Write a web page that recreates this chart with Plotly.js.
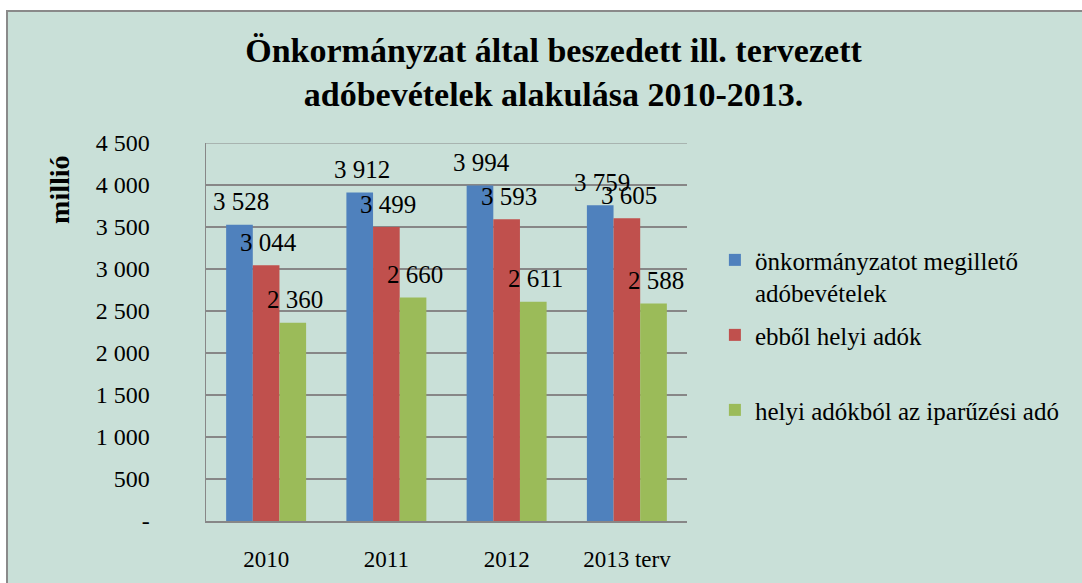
<!DOCTYPE html>
<html>
<head>
<meta charset="utf-8">
<script src="https://cdn.plot.ly/plotly-3.0.1.min.js"></script>
<style>
  html, body { margin:0; padding:0; background:#ffffff; overflow:hidden; width:1082px; height:583px; }
  #chart { position:absolute; left:6px; top:10px; width:1076px; height:571px;
           border-top:2px solid #8a8a8a; border-left:2px solid #8a8a8a; }
</style>
</head>
<body>
<div id="chart"></div>
<script>
const categories = ["2010", "2011", "2012", "2013 terv"];
const seriesNames = ["önkormányzatot megillető<br>adóbevételek", "ebből helyi adók<br>\u00a0", "helyi adókból az iparűzési adó"];
const totalRevenue = [3528, 3912, 3994, 3759];
const localTaxes = [3044, 3499, 3593, 3605];
const businessTax = [2360, 2660, 2611, 2588];
const yTickValues = [0, 500, 1000, 1500, 2000, 2500, 3000, 3500, 4000, 4500];
const yTickLabels = ["-", "500", "1 000", "1 500", "2 000", "2 500", "3 000", "3 500", "4 000", "4 500"];

const colors = ["#4f81bd", "#c0504d", "#9bbb59"];
const series = [totalRevenue, localTaxes, businessTax];
const bg = "#c9e0d8";
const serif = "Liberation Serif, serif";

function fmt(v) { return String(v).replace(/\B(?=(\d{3})+(?!\d))/g, " "); }

const traces = series.map((vals, i) => ({
  type: "bar",
  x: categories,
  y: vals,
  name: seriesNames[i],
  marker: { color: colors[i] },
  legendgroup: "g" + i,
  hoverinfo: "skip"
}));

const barPx = 26.7;
const annotations = [];
series.forEach((vals, i) => {
  vals.forEach((v, j) => {
    annotations.push({
      x: j, y: v, xref: "x", yref: "y",
      text: fmt(v), showarrow: false,
      xshift: (i - 1) * barPx + 2, yshift: 23,
      xanchor: "center", yanchor: "middle",
      font: { family: serif, size: 25, color: "#000" }
    });
  });
});
annotations.push({
  xref: "paper", yref: "paper", x: -0.3035, y: 0.876,
  text: "<b>millió</b>", textangle: -90, showarrow: false,
  xanchor: "center", yanchor: "middle",
  font: { family: serif, size: 28, color: "#000" }
});

const layout = {
  width: 1076, height: 571,
  paper_bgcolor: bg, plot_bgcolor: bg,
  margin: { l: 198, r: 397, t: 131, b: 62, pad: 0 },
  title: {
    text: "<b>Önkormányzat által beszedett ill. tervezett<br>adóbevételek alakulása 2010-2013.</b>",
    font: { family: serif, size: 34, color: "#000" },
    x: 0.507, xanchor: "center", xref: "container",
    y: 0.912, yanchor: "top", yref: "container"
  },
  bargap: 0.335, bargroupgap: 0, barmode: "group",
  xaxis: {
    type: "category",
    categoryorder: "array", categoryarray: categories,
    range: [-0.5, 3.5], autorange: false,
    showgrid: false, zeroline: false,
    showline: true, linecolor: "#878787", linewidth: 1.5,
    ticks: "", ticklabelstandoff: 17,
    tickfont: { family: serif, size: 23, color: "#000" }
  },
  yaxis: {
    range: [0, 4500], autorange: false,
    tickvals: yTickValues, ticktext: yTickLabels,
    showgrid: true, gridcolor: "#878787", gridwidth: 1.2,
    zeroline: false,
    showline: true, linecolor: "#878787", linewidth: 1.5,
    ticks: "", ticklabelstandoff: 50,
    tickfont: { family: serif, size: 24, color: "#000" }
  },
  shapes: [{
    type: "line", xref: "paper", yref: "y", x0: 0, x1: 1, y0: 4500, y1: 4500,
    line: { color: "#878787", width: 1.2 }, layer: "below"
  }],
  showlegend: true,
  legend: {
    x: 1.058, y: 0.751, xanchor: "left", yanchor: "top",
    valign: "top",
    bgcolor: "rgba(0,0,0,0)",
    font: { family: serif, size: 25, color: "#000" },
    tracegroupgap: 7,
    traceorder: "grouped"
  },
  annotations: annotations
};

Plotly.newPlot("chart", traces, layout, { displayModeBar: false, staticPlot: true });
</script>
</body>
</html>
